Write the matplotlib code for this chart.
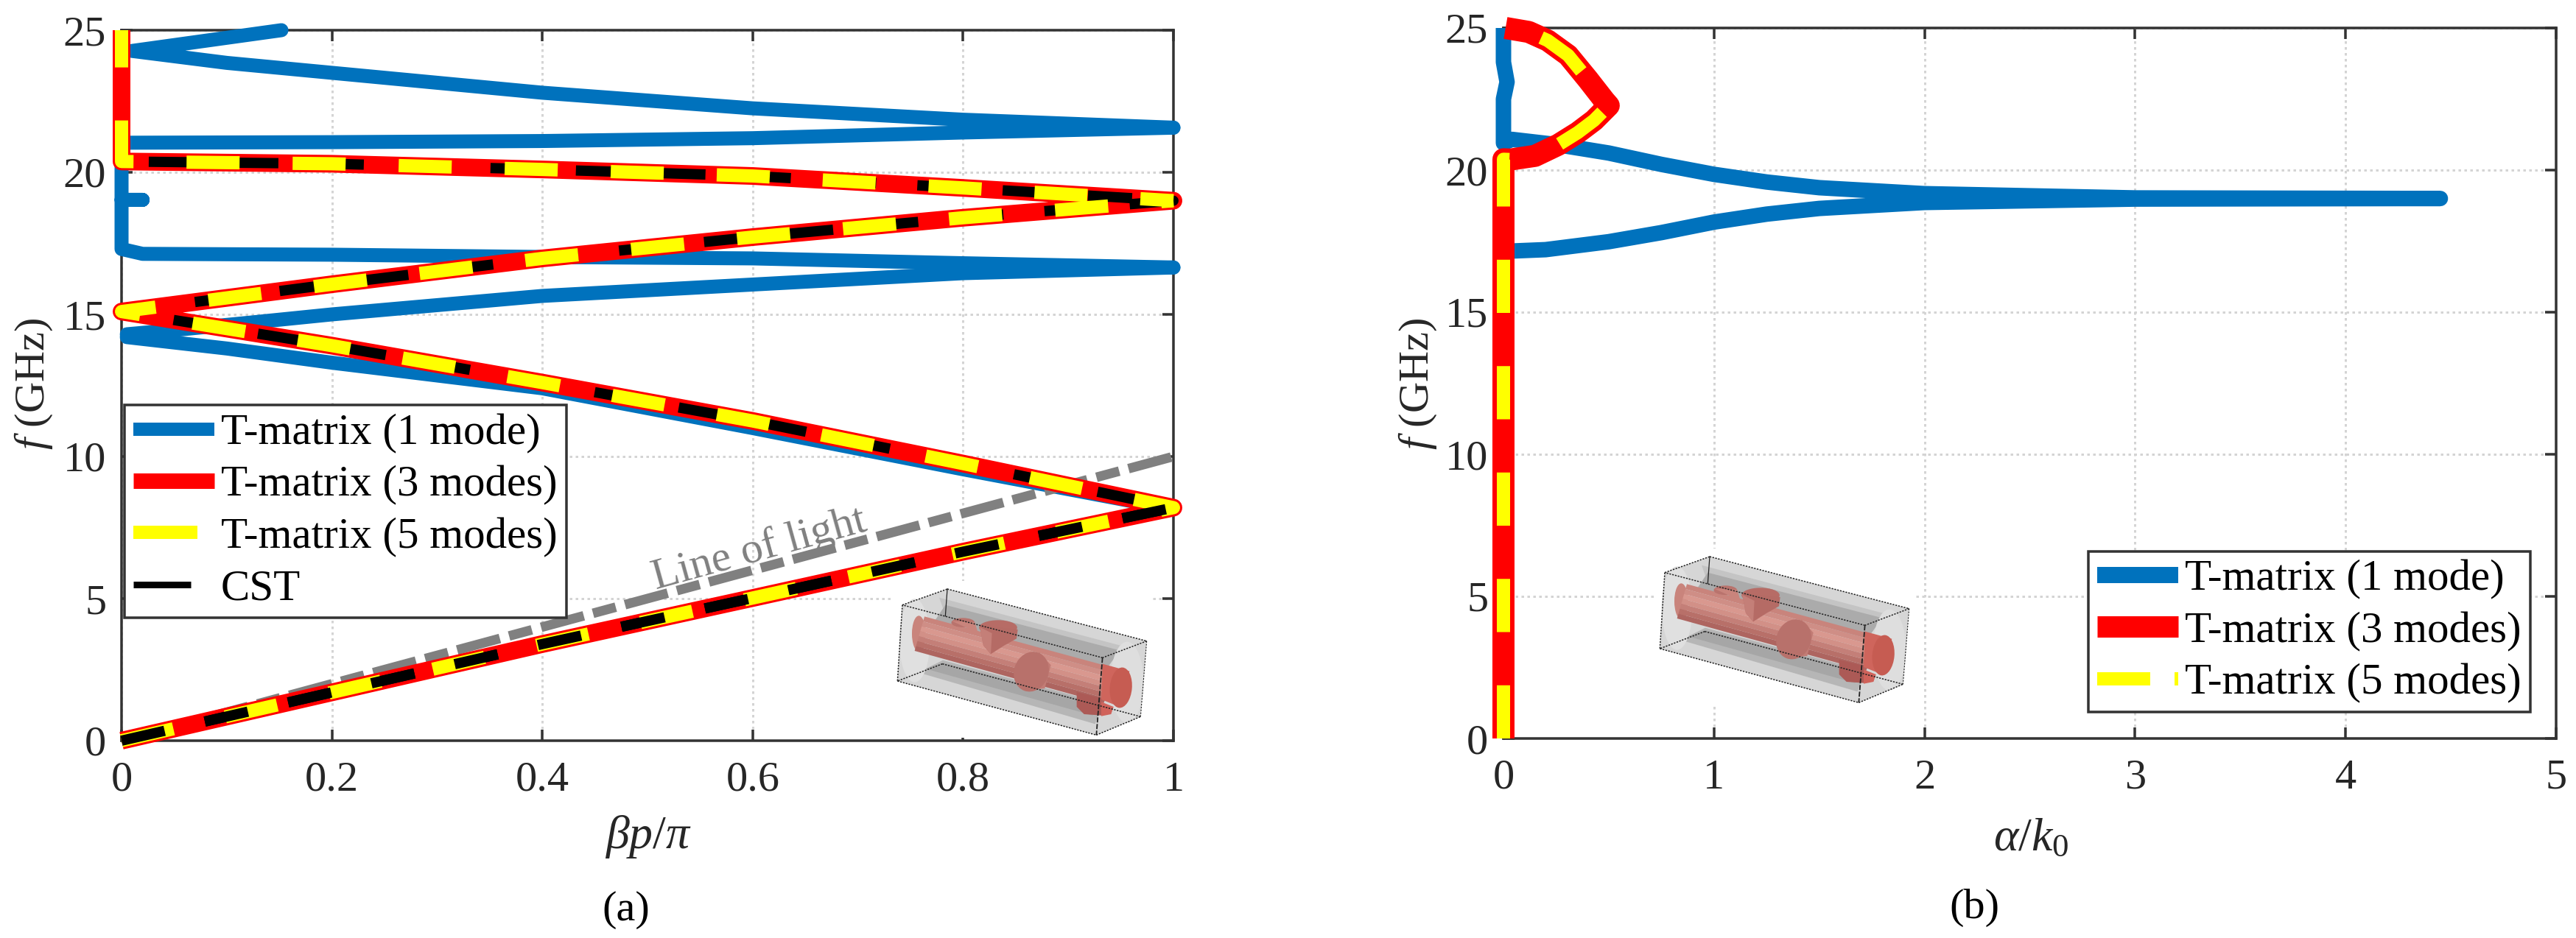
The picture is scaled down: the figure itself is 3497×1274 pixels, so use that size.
import numpy as np
import matplotlib
matplotlib.use("Agg")
import matplotlib.pyplot as plt
from matplotlib.lines import Line2D
from matplotlib.patches import Ellipse, Polygon, Rectangle
from matplotlib.transforms import Affine2D

W, H = 3497, 1274

plt.rcParams["font.family"] = ["Liberation Serif", "DejaVu Serif"]
plt.rcParams["mathtext.fontset"] = "custom"
plt.rcParams["mathtext.rm"] = "Liberation Serif"
plt.rcParams["mathtext.it"] = "Liberation Serif:italic"
plt.rcParams["lines.scale_dashes"] = False

# (a) dispersion, values
BLUE_A_X = [1, 0.8, 0.6, 0.4, 0.2, 0.1, 0.005]
BLUE_A_F = [8.15, 9.55, 11.0, 12.4, 13.3, 13.8, 14.2]
BLUE_B_X = [0.005, 0.05, 0.125, 0.2, 0.4, 0.6, 0.8, 1]
BLUE_B_F = [14.3, 14.45, 14.72, 15.0, 15.65, 16.05, 16.45, 16.65]
BLUE_C_X = [1, 0.8, 0.6, 0.4, 0.2, 0.02, 0, 0, 0.02, 0, 0]
BLUE_C_F = [16.65, 16.8, 16.97, 17.02, 17.1, 17.13, 17.3, 19.03, 19.03, 19.03, 20.3]
BLUE_D_X = [0, 0.2, 0.4, 0.6, 0.8, 1]
BLUE_D_F = [21.04, 21.06, 21.1, 21.2, 21.4, 21.57]
BLUE_E_X = [1, 0.8, 0.6, 0.4, 0.2, 0.1, 0.01, 0.152]
BLUE_E_F = [21.57, 21.85, 22.25, 22.8, 23.5, 23.85, 24.27, 25.0]

MODE_X = [0, 0.2, 0.4, 0.6, 0.8, 1,
          0.8, 0.6, 0.4, 0.2, 0,
          0.2, 0.4, 0.6, 0.8, 1,
          0.8, 0.6, 0.4, 0.2, 0]
MODE_F = [0, 1.7, 3.4, 5.02, 6.65, 8.2,
          9.75, 11.25, 12.6, 13.9, 15.1,
          16.06, 16.97, 17.72, 18.4, 19.0,
          19.45, 19.87, 20.1, 20.3, 20.38]
TOP_X = [0, 0]
TOP_F = [20.38, 25.0]

LIGHT_X = [0, 1]
LIGHT_F = [0, 10]

# (b) attenuation
ALPHA_BLUE = [0, 0, 0.2, 0.5, 0.75, 1, 1.25, 1.5, 2, 3, 4.45,
              3, 2, 1.5, 1.25, 1, 0.75, 0.5, 0.25, 0.04, 0, 0, 0.017, 0, 0]
FREQ_BLUE = [0, 17.14, 17.2, 17.48, 17.8, 18.17, 18.45, 18.65, 18.86, 18.98, 19.0,
             19.02, 19.17, 19.38, 19.58, 19.85, 20.2, 20.6, 20.9, 21.08, 20.95, 22.5, 23.1, 23.8, 25.0]
ALPHA_MODE = [0, 0, 0.033, 0.15, 0.26, 0.353, 0.43, 0.50,
              0.48, 0.40, 0.307, 0.21, 0.12, 0.01]
FREQ_MODE = [0, 20.38, 20.37, 20.5, 20.89, 21.32, 21.75, 22.27,
             22.44, 23.2, 24.04, 24.56, 24.86, 25.0]

X_TICKS_A = [0, 0.2, 0.4, 0.6, 0.8, 1]
X_LABELS_A = ["0", "0.2", "0.4", "0.6", "0.8", "1"]
X_TICKS_B = [0, 1, 2, 3, 4, 5]
Y_TICKS = [0, 5, 10, 15, 20, 25]

LABELS = ["T-matrix (1 mode)", "T-matrix (3 modes)", "T-matrix (5 modes)", "CST"]

BLUE = "#0072bd"
RED = "#ff0000"
YELLOW = "#ffff00"
GRAY = "#808080"
AXIS = "#333333"


def px(n):
    return n * 72 / 100


YELLOW_DASH = (0, (px(72.25), px(72.25)))
YELLOW_UPPER = (px(27), (px(72), px(72)))
BLACK_DASH = (0, (px(60), px(56)))
LIGHT_DASH = (0, (px(60), px(13), px(32), px(13)))


def setup_axes(ax, xlim, xticks, xlabels):
    ax.set_xlim(*xlim)
    ax.set_ylim(0, 25)
    ax.set_xticks(xticks)
    ax.set_xticklabels(xlabels)
    ax.set_yticks(Y_TICKS)
    ax.tick_params(direction="in", top=True, right=True, length=px(15), width=px(3.5),
                   color=AXIS, labelcolor="#262626", labelsize=42)
    ax.tick_params(axis="x", pad=20)
    ax.tick_params(axis="y", pad=15)
    for spine in ax.spines.values():
        spine.set_linewidth(px(3.5))
        spine.set_color(AXIS)
    ax.grid(True, color="#d4d4d4", linewidth=px(3), linestyle=(0, (px(3.5), px(4.5))))
    ax.set_axisbelow(True)


def thick(ax, x, y, color, width, zorder, dashes=None, cap="round"):
    kw = dict(color=color, linewidth=px(width), zorder=zorder, clip_on=False,
              solid_capstyle=cap, solid_joinstyle="round",
              dash_capstyle="butt", dash_joinstyle="round")
    if dashes is not None:
        kw["linestyle"] = dashes
    return ax.plot(x, y, **kw)


def handle(color, width, dashes=None):
    line = Line2D([], [], color=color, linewidth=px(width), solid_capstyle="butt",
                  dash_capstyle="butt")
    if dashes is not None:
        line.set_linestyle(dashes)
    return line


def add_legend(ax, handles, labels, left, bottom):
    leg = ax.legend(handles, labels, loc="lower left",
                    bbox_to_anchor=(left / W, 1 - bottom / H), bbox_transform=ax.figure.transFigure,
                    fontsize=42.5, handlelength=1.87, handletextpad=0.15, borderpad=0.2,
                    labelspacing=0.27, borderaxespad=0, fancybox=False, framealpha=1,
                    edgecolor=AXIS)
    leg.get_frame().set_linewidth(px(3.5))
    leg.set_zorder(20)
    return leg


def draw_cell(fig, dx, dy):
    # little 3D sketch of the unit cell, in 3x crop coordinates of the left panel
    tr = (Affine2D().scale(1 / 3, 1 / 3).translate(1200 + dx, 780 + dy)
          .scale(1, -1).translate(0, H))

    def poly(pts, color, z=5):
        fig.add_artist(Polygon(pts, closed=True, facecolor=color, edgecolor="none",
                               transform=tr, zorder=z))

    def oval(x, y, w, h, color, angle=0, z=5):
        fig.add_artist(Ellipse((x, y), w, h, angle=angle, facecolor=color, edgecolor="none",
                               transform=tr, zorder=z))

    def edge(a, b, style=(0, (1.6, 1.2)), lw=1.1):
        fig.add_artist(Line2D([a[0], b[0]], [a[1], b[1]], color="#222222", linewidth=lw,
                              linestyle=style, transform=tr, zorder=7))

    # white patch hiding the grid
    fig.add_artist(Rectangle((35, 27), 1050, 640, facecolor="white", edgecolor="none",
                             transform=tr, zorder=4))

    a, b, c, d = (75, 125), (258, 60), (1070, 272), (890, 340)
    e, f, g, h = (55, 435), (865, 655), (1045, 580), (238, 365)

    poly([a, b, c, g, f, e], "#d6d6d6")
    # tube seen through the box
    poly([(225, 95), (1000, 300), (930, 345), (250, 165)], "#c4c4c4")
    poly([(250, 125), (960, 310), (900, 395), (200, 200)], "#ababab")
    poly([(140, 400), (240, 350), (890, 525), (860, 610)], "#b6b6b6")
    poly([(170, 385), (240, 360), (880, 530), (850, 575)], "#a6a6a6")
    oval(125, 270, 125, 340, "#e0e0e0", z=5)
    oval(990, 440, 135, 330, "#dedede", z=5)

    # rod, shaded in strips
    top0, top1 = np.array([165, 172]), np.array([950, 385])
    bot0, bot1 = np.array([125, 312]), np.array([895, 525])
    strips = ["#c9847c", "#cf8e86", "#d9988f", "#d29087", "#c47f78", "#b87069", "#ae6560"]
    oval(142, 242, 56, 146, "#c9847c", z=6)
    for i, colour in enumerate(strips):
        s0, s1 = i / len(strips), (i + 1) / len(strips)
        poly([top0 + (bot0 - top0) * s0, top1 + (bot1 - top1) * s0,
              top1 + (bot1 - top1) * s1, top0 + (bot0 - top0) * s1], colour, z=6)

    # stubs and discs
    oval(322, 197, 95, 38, "#b9736d", z=6)
    poly([(275, 190), (370, 195), (385, 245), (330, 215)], "#c9847c", z=6)
    oval(465, 217, 155, 60, "#b76c66", z=6)
    poly([(390, 210), (545, 225), (540, 262), (490, 290), (435, 325), (405, 290)], "#b56b65", z=6)
    poly([(390, 215), (440, 240), (435, 325), (405, 290)], "#c47f78", z=6)
    poly([(630, 315), (680, 370), (655, 465), (600, 470)], "#c27c75", z=6)
    oval(600, 397, 140, 165, "#b8716b", angle=20, z=6)
    poly([(785, 480), (885, 505), (885, 575), (815, 570), (785, 540)], "#ac5a56", z=6)
    poly([(885, 520), (935, 540), (925, 570), (885, 578)], "#d0625a", z=6)
    poly([(890, 365), (1000, 395), (960, 540), (885, 510)], "#cf655c", z=6)
    oval(965, 462, 90, 165, "#c65c52", angle=5, z=6)

    # box edges
    for p, q in [(a, b), (b, c), (c, d), (d, a), (e, f), (f, g), (g, h), (h, e), (a, e)]:
        edge(p, q)
    edge(c, g, lw=0.8)
    edge(b, (250, 170), style="-", lw=0.9)
    edge(d, f, style=(0, (5, 1.5)), lw=1.3)


fig = plt.figure(figsize=(W / 100, H / 100), dpi=100)
ax_a = fig.add_axes([165 / W, 1 - 1006 / H, (1593 - 165) / W, 965 / H])
ax_b = fig.add_axes([2041 / W, 1 - 1003 / H, (3470 - 2041) / W, 965 / H])

# ---- panel (a)
setup_axes(ax_a, (0, 1), X_TICKS_A, X_LABELS_A)
for xs, fs in [(BLUE_A_X, BLUE_A_F), (BLUE_B_X, BLUE_B_F), (BLUE_C_X, BLUE_C_F),
               (BLUE_D_X, BLUE_D_F), (BLUE_E_X, BLUE_E_F)]:
    thick(ax_a, xs, fs, BLUE, 19, 3)
ax_a.plot(LIGHT_X, LIGHT_F, color=GRAY, linewidth=px(13), linestyle=LIGHT_DASH, zorder=3.5,
          dash_capstyle="butt")
full_x = MODE_X + TOP_X[1:]
full_f = MODE_F + TOP_F[1:]
thick(ax_a, full_x, full_f, RED, 24, 4, cap="butt")
thick(ax_a, MODE_X, MODE_F, "black", 14, 4.5, BLACK_DASH)
# yellow dashes restart at the far turning point so they land where they do on the vertical part
thick(ax_a, MODE_X[:16], MODE_F[:16], YELLOW, 18, 5, YELLOW_DASH)
thick(ax_a, MODE_X[15:] + TOP_X[1:], MODE_F[15:] + TOP_F[1:], YELLOW, 18, 5, YELLOW_UPPER)
thick(ax_a, MODE_X[:6], MODE_F[:6], "black", 14, 5.5, BLACK_DASH)

ax_a.text(1031 / W, 1 - 747 / H, "Line of light", transform=fig.transFigure, color=GRAY,
          fontsize=43, rotation=15.5, rotation_mode="anchor", ha="center", va="center", zorder=6)

add_legend(ax_a,
           [handle(BLUE, 18), handle(RED, 21),
            handle(YELLOW, 18, (0, (px(87), px(60)))),
            handle("black", 9, (0, (px(78), px(60))))],
           LABELS, 169, 839)

# ---- panel (b)
setup_axes(ax_b, (0, 5), X_TICKS_B, [str(t) for t in X_TICKS_B])
thick(ax_b, ALPHA_BLUE, FREQ_BLUE, BLUE, 21, 3, cap="butt")
thick(ax_b, ALPHA_MODE, FREQ_MODE, RED, 30, 4, cap="butt")
thick(ax_b, ALPHA_MODE, FREQ_MODE, YELLOW, 18, 5, YELLOW_DASH)

add_legend(ax_b,
           [handle(BLUE, 22), handle(RED, 29),
            handle(YELLOW, 18, (0, (px(72), px(33))))],
           LABELS[:3], 2835, 967)

# ---- axis titles placed by pixel
for x, y, s, rot, colour, size in [
    (46, 521, r"$f$ (GHz)", 90, "#262626", 42),
    (1925, 521, r"$f$ (GHz)", 90, "#262626", 42),
    (880, 1137, r"$\beta p/\pi$", 0, "#262626", 46),
    (2757, 1140, r"$\alpha/k_0$", 0, "#262626", 46),
    (850, 1236, "(a)", 0, "black", 42),
    (2680, 1233, "(b)", 0, "black", 42),
]:
    fig.text(x / W, 1 - y / H, s, rotation=rot, color=colour, fontsize=size,
             ha="center", va="center")

draw_cell(fig, 0, 0)
draw_cell(fig, 1035, -44)

fig.savefig("out.png", dpi=100, facecolor="white")
